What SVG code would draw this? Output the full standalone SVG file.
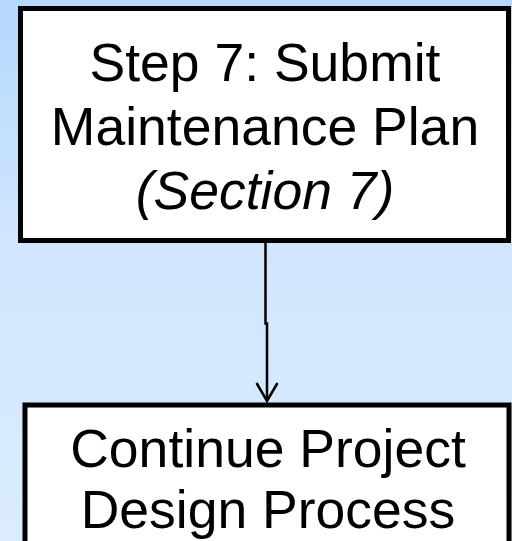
<svg xmlns="http://www.w3.org/2000/svg" width="512" height="541" viewBox="0 0 512 541">
  <defs>
    <linearGradient id="bg" x1="0" y1="0" x2="0" y2="1">
      <stop offset="0" stop-color="#b6d8fc"/>
      <stop offset="0.45" stop-color="#d0e6fe"/>
      <stop offset="1" stop-color="#dbecff"/>
    </linearGradient>
  </defs>
  <style>
    .box { fill: #ffffff; stroke: #000000; stroke-width: 5; }
    .label { font-family: "Liberation Sans", Arial, sans-serif; font-size: 53.5px; fill: #000000; text-anchor: middle; }
    .it { font-style: italic; }
    .conn { fill: none; stroke: #000000; stroke-width: 2.5; }
  </style>
  <rect width="512" height="541" fill="url(#bg)"/>

  <g id="connectors">
    <path class="conn" d="M265.5,243 V323.5 H267 V400"/>
    <path class="conn" d="M256.5,383 L267,401 L277.5,383"/>
  </g>

  <g id="step7">
    <rect class="box" x="20.5" y="8.5" width="488" height="232"/>
    <text class="label" x="265" y="81">Step 7: Submit</text>
    <text class="label" x="265" y="145">Maintenance Plan</text>
    <text class="label it" x="265" y="209">(Section 7)</text>
  </g>

  <g id="continue">
    <rect class="box" x="25" y="405" width="484" height="160" stroke-width="6"/>
    <text class="label" x="268" y="467">Continue Project</text>
    <text class="label" x="268" y="528">Design Process</text>
  </g>
</svg>
